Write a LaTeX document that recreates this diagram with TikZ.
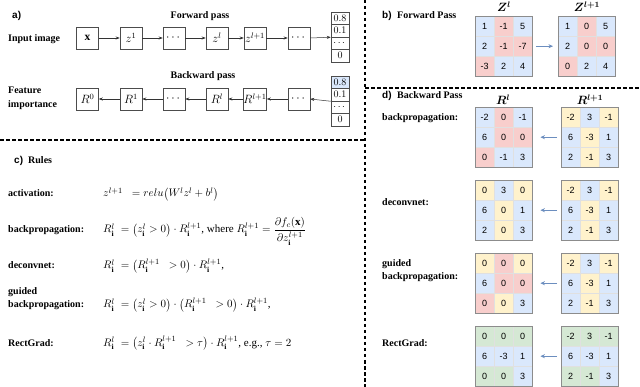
\documentclass[tikz,border=0pt]{standalone}
\usepackage{amsmath}
\usepackage{fontspec}
\setmainfont{Liberation Serif}
\setsansfont{Liberation Sans}
\usetikzlibrary{arrows.meta}
\definecolor{cb}{HTML}{DAE8FC}
\definecolor{cr}{HTML}{F8CECC}
\definecolor{cy}{HTML}{FFF2CC}
\definecolor{cg}{HTML}{D5E8D4}
\definecolor{arr}{HTML}{6C8EBF}
\newcommand{\drawmat}[4]{%
  \node[matbox, anchor=north west] (#1) at (#2,#3) {};
  \foreach [count=\k from 0] \v/\c in {#4} {
    \pgfmathtruncatemacro\rr{int(\k/3)}
    \pgfmathtruncatemacro\qq{mod(\k,3)}
    \node[cell, fill=\c] (#1-\k) at ({#2+9.5+19*\qq},{#3+10+20*\rr}) {\v};
  }
  \draw[matborder] (#1.north west) rectangle (#1.south east);
}
\begin{document}
\begin{tikzpicture}[x=1pt,y=-1pt,
  lab/.style={font=\fontsize{10}{12}\selectfont\bfseries, inner sep=0, anchor=base west},
  plab/.style={font=\fontsize{10}{12}\selectfont\sffamily\bfseries, inner sep=0, anchor=base west},
  frm/.style={font=\fontsize{11}{13}\selectfont, inner sep=0, anchor=base west},
  ttl/.style={font=\fontsize{10}{12}\selectfont\bfseries, inner sep=0, anchor=base},
  abox/.style={draw=black!70, line width=0.5, minimum width=22, minimum height=22, inner sep=0, font=\fontsize{11.5}{13}\selectfont},
  ocell/.style={draw=black!70, line width=0.5, minimum width=18, minimum height=12.5, inner sep=0, font=\fontsize{10}{11}\selectfont},
  aarr/.style={draw=black!80, line width=0.5, -{Stealth[length=4pt,width=3pt]}},
  barr/.style={draw=arr, line width=1, -{Stealth[length=4.5pt,width=4pt]}},
  matbox/.style={minimum width=57, minimum height=60, inner sep=0},
  cell/.style={minimum width=19, minimum height=20, inner sep=0, draw=black!12, line width=0.3, font=\fontsize{9}{10}\selectfont\sffamily},
  matborder/.style={draw=black!45, line width=0.6},
  mttl/.style={font=\fontsize{11.5}{12}\selectfont, inner sep=0, anchor=base},
  dsh/.style={line width=1.2, dash pattern=on 3.5pt off 2.5pt}
]
\useasboundingbox (0,0) rectangle (640,387);

% dashed separators
\coordinate (v0) at (365,0);
\coordinate (v1) at (365,387);
\coordinate (hl0) at (0,140);
\coordinate (hl1) at (365,140);
\coordinate (hr0) at (365,88);
\coordinate (hr1) at (640,88);
\draw[dsh] (v0) -- (v1);
\draw[dsh] (hl0) -- (hl1);
\draw[dsh] (hr0) -- (hr1);

% ---------------- panel a
\node[plab] (pa) at (12,19) {a)};
\node[ttl] (fwt) at (200,19) {Forward pass};
\node[ttl] (bwt) at (203,79) {Backward pass};
\node[lab] (inimg) at (8,42) {Input image};
\node[lab] (feat1) at (8,94) {Feature};
\node[lab] (feat2) at (8,108) {importance};

\node[abox] (fx) at (87.5,38) {$\mathbf{x}$};
\node[abox] (f1) at (131,38) {$z^1$};
\node[abox] (fd1) at (174,38) {$\cdots$};
\node[abox] (fl) at (217,38) {$z^l$};
\node[abox] (fl1) at (255,38) {$z^{l+1}$};
\node[abox] (fd2) at (299,38) {$\cdots$};
\node[ocell] (fo1) at (340,18.25) {$0.8$};
\node[ocell] (fo2) at (340,30.75) {$0.1$};
\node[ocell] (fo3) at (340,43.25) {$\cdots$};
\node[ocell] (fo4) at (340,55.75) {$0$};
\draw[aarr] (fx) -- (f1);
\draw[aarr] (f1) -- (fd1);
\draw[aarr] (fd1) -- (fl);
\draw[aarr] (fl) -- (fl1);
\draw[aarr] (fl1) -- (fd2);
\draw[aarr] (fd2.east) -- (fo2.south west);

\node[abox] (b0) at (87.5,99) {$R^0$};
\node[abox] (b1) at (131,99) {$R^1$};
\node[abox] (bd1) at (174,99) {$\cdots$};
\node[abox] (bl) at (217,99) {$R^l$};
\node[abox] (bl1) at (255,99) {$R^{l+1}$};
\node[abox] (bd2) at (299,99) {$\cdots$};
\node[ocell, fill=cb] (bo1) at (340,82.25) {$0.8$};
\node[ocell] (bo2) at (340,94.75) {$0.1$};
\node[ocell] (bo3) at (340,107.25) {$\cdots$};
\node[ocell] (bo4) at (340,119.75) {$0$};
\draw[aarr] (bo2.south west) -- (bd2.east);
\draw[aarr] (bd2) -- (bl1);
\draw[aarr] (bl1) -- (bl);
\draw[aarr] (bl) -- (bd1);
\draw[aarr] (bd1) -- (b1);
\draw[aarr] (b1) -- (b0);

% ---------------- panel b
\node[plab] (pb) at (382,19) {b)};
\node[lab] (pbt) at (397,19) {Forward Pass};
\node[mttl] (zlt) at (504,12) {$\boldsymbol{Z^l}$};
\node[mttl] (zl1t) at (587,12) {$\boldsymbol{Z^{l+1}}$};
\drawmat{zl}{475}{16}{1/cb,-1/cr,5/cb,2/cb,-1/cr,-7/cr,-3/cr,2/cb,4/cb}
\drawmat{zl1}{558}{16}{1/cb,0/cr,5/cb,2/cb,0/cr,0/cr,0/cr,2/cb,4/cb}
\draw[barr, shorten <=4, shorten >=5] (zl.east) -- (zl1.west);

% ---------------- panel d
\node[plab] (pd) at (382,99) {d)};
\node[lab] (pdt) at (397,99) {Backward Pass};
\node[mttl] (rlt) at (503,105) {$\boldsymbol{R^l}$};
\node[mttl] (rl1t) at (590,105) {$\boldsymbol{R^{l+1}}$};

\node[lab] (d1) at (382,121) {backpropagation:};
\node[lab] (d2) at (382,206) {deconvnet:};
\node[lab] (d3a) at (382,267) {guided};
\node[lab] (d3b) at (382,280) {backpropagation:};
\node[lab] (d4) at (382,346) {RectGrad:};

\drawmat{ra}{475}{107}{-2/cb,0/cr,-1/cb,6/cb,0/cr,0/cr,0/cr,-1/cb,3/cb}
\drawmat{rb}{561}{107}{-2/cy,3/cb,-1/cy,6/cb,-3/cy,1/cb,2/cb,-1/cy,3/cb}
\draw[barr, shorten <=4, shorten >=8] (rb.west) -- (ra.east);

\drawmat{rc}{475}{180}{0/cy,3/cb,0/cy,6/cb,0/cy,1/cb,2/cb,0/cy,3/cb}
\drawmat{rd}{561}{180}{-2/cy,3/cb,-1/cy,6/cb,-3/cy,1/cb,2/cb,-1/cy,3/cb}
\draw[barr, shorten <=4, shorten >=8] (rd.west) -- (rc.east);

\drawmat{re}{475}{253}{0/cy,0/cr,0/cy,6/cb,0/cr,0/cr,0/cr,0/cy,3/cb}
\drawmat{rf}{561}{253}{-2/cy,3/cb,-1/cy,6/cb,-3/cy,1/cb,2/cb,-1/cy,3/cb}
\draw[barr, shorten <=4, shorten >=8] (rf.west) -- (re.east);

\drawmat{rg}{475}{326}{0/cg,0/cg,0/cg,6/cb,-3/cb,1/cb,0/cg,0/cg,3/cb}
\drawmat{rh}{561}{326}{-2/cg,3/cg,-1/cg,6/cb,-3/cb,1/cb,2/cg,-1/cg,3/cb}
\draw[barr, shorten <=4, shorten >=8] (rh.west) -- (rg.east);

% ---------------- panel c
\node[plab] (pc) at (14,164) {c)};
\node[lab] (pct) at (28,164) {Rules};
\node[lab] (c1) at (8,197) {activation:};
\node[frm] (f1e) at (103,197) {$z^{l+1}\;\;= relu\big(W^l z^l + b^l\big)$};
\node[lab] (c2) at (8,233) {backpropagation:};
\node[frm] (f2e) at (103,233) {$R^l_{\mathbf{i}}\;= \big(z^l_{\mathbf{i}} > 0\big)\cdot R^{l+1}_{\mathbf{i}}$, where $R^{l+1}_{\mathbf{i}} = \dfrac{\partial f_c(\mathbf{x})}{\partial z^{l+1}_{\mathbf{i}}}$};
\node[lab] (c3) at (8,269) {deconvnet:};
\node[frm] (f3e) at (103,269) {$R^l_{\mathbf{i}}\;= \big(R^{l+1}_{\mathbf{i}}\;\; > 0\big)\cdot R^{l+1}_{\mathbf{i}}$,};
\node[lab] (c4a) at (8,295) {guided};
\node[lab] (c4b) at (8,308) {backpropagation:};
\node[frm] (f4e) at (103,308) {$R^l_{\mathbf{i}}\;= \big(z^l_{\mathbf{i}} > 0\big)\cdot\big(R^{l+1}_{\mathbf{i}}\;\; > 0\big)\cdot R^{l+1}_{\mathbf{i}}$,};
\node[lab] (c5) at (8,346) {RectGrad:};
\node[frm] (f5e) at (103,346) {$R^l_{\mathbf{i}}\;= \big(z^l_{\mathbf{i}}\cdot R^{l+1}_{\mathbf{i}}\;\; > \tau\big)\cdot R^{l+1}_{\mathbf{i}}$, e.g., $\tau = 2$};
\end{tikzpicture}
\end{document}
